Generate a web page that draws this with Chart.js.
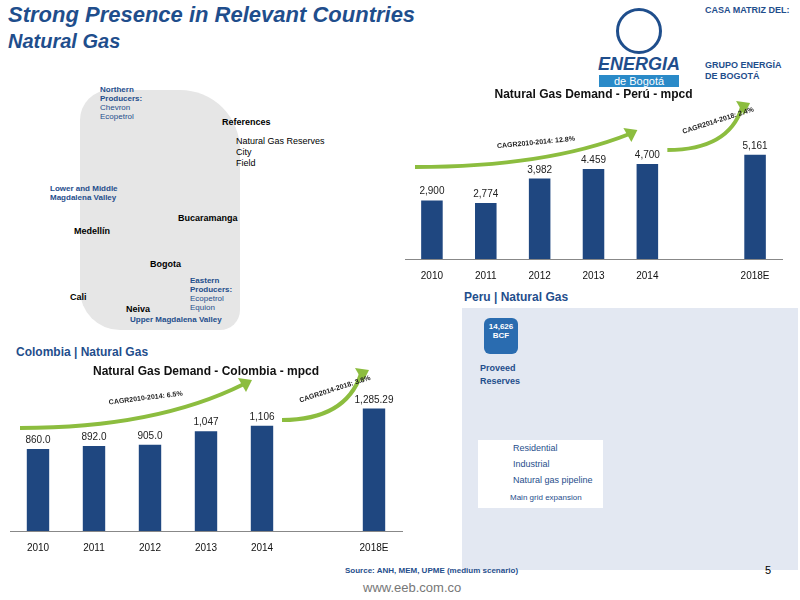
<!DOCTYPE html>
<html><head><meta charset="utf-8">
<script src="https://cdn.jsdelivr.net/npm/chart.js@4/dist/chart.umd.min.js"></script>
<style>
body{margin:0;width:800px;height:600px;position:relative;overflow:hidden;background:#fff;font-family:Arial,"Liberation Sans",sans-serif}
.abs{position:absolute}
#t1{left:8px;top:2px;font:italic bold 22px Arial,"Liberation Sans";color:#1f4e8c}
#t2{left:8px;top:30px;font:italic bold 20px Arial,"Liberation Sans";color:#1f4e8c}
.sec{font:bold 12px Arial;color:#1f4e8c}
</style></head><body>
<div id="t1" class="abs">Strong Presence in Relevant Countries</div>
<div id="t2" class="abs">Natural Gas</div>
<div class="abs" style="left:583px;top:8px;width:112px;height:72px;text-align:center;color:#1f4e8c">
 <div style="width:40px;height:40px;border-radius:50%;border:3px solid #1f4e8c;margin:0 auto"></div>
 <div style="font:italic bold 18px Arial">ENERGIA</div>
 <div style="background:#2a8ac8;color:#fff;font:11px Arial;width:80px;margin:0 auto">de Bogotá</div>
</div>
<div class="abs" style="left:705px;top:5px;font:bold 9px Arial;color:#1f4e8c;line-height:11px">CASA MATRIZ DEL:<br><br><br><br><br>GRUPO ENERGÍA<br>DE BOGOTÁ</div>
<div class="abs" style="left:80px;top:90px;width:160px;height:240px;background:#e6e6e6;border-radius:30px 60px 20px 40px"></div>
<div class="abs" style="left:222px;top:117px;font:bold 9px Arial">References</div>
<div class="abs" style="left:236px;top:136px;font:9px Arial;line-height:11px">Natural Gas Reserves<br>City<br>Field</div>
<div class="abs" style="left:100px;top:85px;font:bold 8px Arial;color:#1f4e8c;line-height:9px">Northern<br>Producers:<br><span style="font-weight:normal">Chevron<br>Ecopetrol</span></div>
<div class="abs" style="left:50px;top:184px;font:bold 8px Arial;color:#1f4e8c;line-height:9px">Lower and Middle<br>Magdalena Valley</div>
<div class="abs" style="left:178px;top:213px;font:bold 9px Arial">Bucaramanga</div>
<div class="abs" style="left:74px;top:226px;font:bold 9px Arial">Medellín</div>
<div class="abs" style="left:150px;top:259px;font:bold 9px Arial">Bogota</div>
<div class="abs" style="left:70px;top:292px;font:bold 9px Arial">Cali</div>
<div class="abs" style="left:126px;top:304px;font:bold 9px Arial">Neiva</div>
<div class="abs" style="left:190px;top:276px;font:bold 8px Arial;color:#1f4e8c;line-height:9px">Eastern<br>Producers:<br><span style="font-weight:normal">Ecopetrol<br>Equion</span></div>
<div class="abs" style="left:130px;top:315px;font:bold 8px Arial;color:#1f4e8c">Upper Magdalena Valley</div>
<div class="abs sec" style="left:16px;top:345px">Colombia | Natural Gas</div>
<div class="abs sec" style="left:464px;top:290px">Peru | Natural Gas</div>
<div class="abs" style="left:462px;top:308px;width:336px;height:262px;background:#e3e8f2"></div>
<div class="abs" style="left:480px;top:362px;font:bold 9px Arial;color:#1f4e8c;line-height:13px">Proveed<br>Reserves</div>
<div class="abs" style="left:484px;top:318px;width:34px;height:36px;background:#2a6cb0;border-radius:6px;color:#fff;font:bold 8px Arial;text-align:center;padding-top:4px;box-sizing:border-box">14,626<br>BCF</div>
<div class="abs" style="left:478px;top:440px;width:125px;height:68px;background:#fff;font:9px Arial;color:#1f4e8c;line-height:16px;padding-left:35px;box-sizing:border-box">Residential<br>Industrial<br>Natural gas pipeline</div>
<div class="abs" style="left:510px;top:493px;font:8px Arial;color:#1f4e8c">Main grid expansion</div>
<div class="abs" style="left:345px;top:566px;font:bold 8px Arial;color:#1f4e8c">Source: ANH, MEM, UPME (medium scenario)</div>
<div class="abs" style="left:363px;top:580px;font:13px Arial;color:#777">www.eeb.com.co</div>
<div class="abs" style="left:765px;top:564px;font:11px Arial">5</div>
<div class="abs" style="left:405px;top:85px;width:385px;height:200px"><canvas id="pe"></canvas></div>
<div class="abs" style="left:10px;top:362px;width:400px;height:195px"><canvas id="co"></canvas></div>
<script>
const categories=["2010","2011","2012","2013","2014","","2018E"];
const peruValues=[2900,2774,3982,4459,4700,null,5161];
const peruLabels=["2,900","2,774","3,982","4.459","4,700","","5,161"];
const colValues=[860,892,905,1047,1106,null,1285.29];
const colLabels=["860.0","892.0","905.0","1,047","1,106","","1,285.29"];
const peruCagr=["CAGR2010-2014: 12.8%","CAGR2014-2018: 2.4%"];
const colCagr=["CAGR2010-2014: 6.5%","CAGR2014-2018: 3.8%"];
const labelsPlugin={id:'lbl',afterDatasetsDraw(c,a,o){const ctx=c.ctx,m=c.getDatasetMeta(0);ctx.save();ctx.font='10px Arial';ctx.fillStyle='#222';ctx.textAlign='center';m.data.forEach((b,i)=>{if(o.labels[i])ctx.fillText(o.labels[i],b.x,b.y-6);});
 const ca=c.chartArea;
 const arrow=(x0,y0,x1,y1,txt)=>{ctx.strokeStyle='#8cbd3f';ctx.fillStyle='#8cbd3f';ctx.lineWidth=4;ctx.beginPath();ctx.moveTo(x0,y0);ctx.quadraticCurveTo((x0+x1)/2+20,y0,x1-8,y1+4);ctx.stroke();ctx.beginPath();ctx.moveTo(x1,y1);ctx.lineTo(x1-14,y1-2);ctx.lineTo(x1-6,y1+12);ctx.fill();
 ctx.save();ctx.translate((x0+x1)/2+10,(y0+y1)/2-4);ctx.rotate(Math.atan2(y1-y0,x1-x0)*0.6);ctx.fillStyle='#222';ctx.font='bold 7px Arial';ctx.fillText(txt,0,0);ctx.restore();};
 const b=m.data;
 arrow(ca.left+10,o.a0,b[4].x-10,o.a1,o.cagr[0]);
 arrow(b[4].x+20,o.a2,b[6].x-5,o.a3,o.cagr[1]);
 ctx.restore();}};
function make(id,vals,labs,cagr,max,title,arr){
 new Chart(document.getElementById(id),{type:'bar',data:{labels:categories,datasets:[{data:vals,backgroundColor:'#1f4780',barPercentage:0.4,categoryPercentage:1}]},
 options:{responsive:true,maintainAspectRatio:false,animation:false,layout:{padding:{right:8}},
 plugins:{legend:{display:false},tooltip:{enabled:false},title:{display:true,text:title,color:'#111',font:{size:12,weight:'bold',family:'Arial'},padding:{top:2,bottom:4}},lbl:Object.assign({labels:labs,cagr:cagr},arr)},
 scales:{x:{grid:{display:false},border:{color:'#888'},ticks:{color:'#111',font:{size:10,family:'Arial'}}},y:{display:false,min:0,max:max}}},plugins:[labelsPlugin]});
}
make('pe',peruValues,peruLabels,peruCagr,7600,'Natural Gas Demand - Perú - mpcd',{a0:82,a1:45,a2:65,a3:18});
make('co',colValues,colLabels,colCagr,1560,'Natural Gas Demand - Colombia - mpcd',{a0:66,a1:18,a2:58,a3:8});
</script>
</body></html>
